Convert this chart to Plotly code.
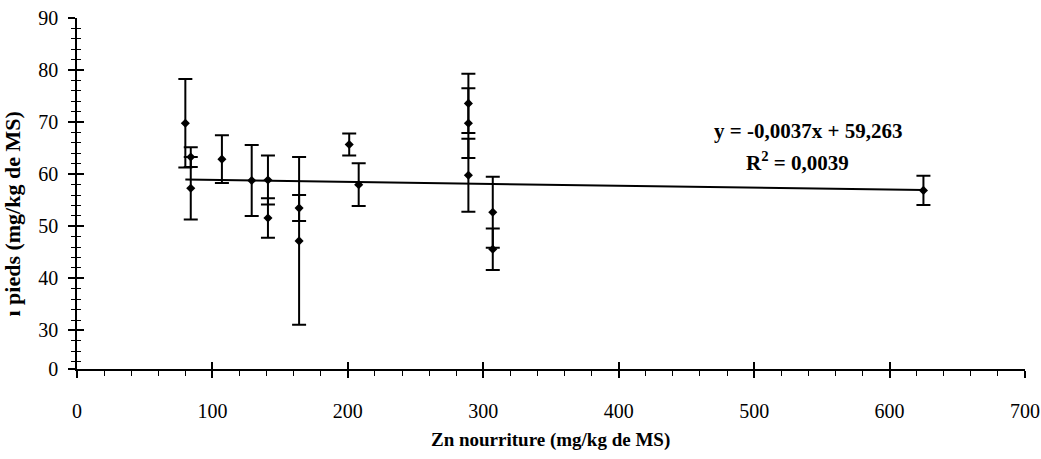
import plotly.graph_objects as go

# ---- data ----
zn_nourriture = [80, 84, 84, 107, 129, 141, 141, 164, 164, 201, 208, 289, 289, 289, 307, 307, 625]
zn_pieds = [69.8, 63.3, 57.3, 62.9, 58.8, 58.9, 51.6, 47.2, 53.5, 65.7, 58.0, 73.6, 69.8, 59.8, 52.7, 45.6, 56.9]
ecart = [8.5, 1.9, 6.0, 4.6, 6.8, 4.7, 3.8, 16.1, 2.5, 2.1, 4.1, 5.7, 6.7, 7.0, 6.8, 4.0, 2.8]

pente = -0.0037
ordonnee = 59.263
x_tick_vals = [0, 100, 200, 300, 400, 500, 600, 700]
y_axis_bottom = 22.6  # axis is broken: the "0" label sits here
y_tick_vals = [y_axis_bottom, 30, 40, 50, 60, 70, 80, 90]
y_tick_text = ["0", "30", "40", "50", "60", "70", "80", "90"]
equation_text = "y = -0,0037x + 59,263"
r2_text = "R<sup>2</sup> = 0,0039"
x_title = "Zn nourriture (mg/kg de MS)"
y_title = "ı pieds (mg/kg de MS)"

FONT = "Liberation Serif"

fig = go.Figure()

x_line = [min(zn_nourriture), max(zn_nourriture)]
y_line = [pente * v + ordonnee for v in x_line]
fig.add_trace(go.Scatter(x=x_line, y=y_line, mode="lines",
                         line=dict(color="black", width=2), hoverinfo="skip"))

fig.add_trace(go.Scatter(
    x=zn_nourriture, y=zn_pieds, mode="markers",
    marker=dict(symbol="diamond", size=7, color="black"),
    error_y=dict(type="data", array=ecart, visible=True, color="black",
                 thickness=2, width=7),
))

axis_common = dict(showgrid=False, zeroline=False, linecolor="black", linewidth=1.5,
                   tickcolor="black", automargin=False)

fig.update_layout(
    width=1041, height=459,
    margin=dict(l=77, r=16, t=18, b=90),
    paper_bgcolor="white", plot_bgcolor="white",
    showlegend=False,
    font=dict(family=FONT, color="black"),
    xaxis=dict(range=[0, 700], tickvals=x_tick_vals, ticks="outside", ticklen=7,
               tickwidth=1.5, showline=True, ticklabelstandoff=16,
               minor=dict(dtick=20, tick0=0, ticks="outside", ticklen=5,
                          tickcolor="black", tickwidth=1),
               tickfont=dict(family=FONT, size=20, color="black"),
               **axis_common),
    yaxis=dict(range=[y_axis_bottom, 90], tickvals=y_tick_vals, ticktext=y_tick_text,
               ticks="outside", ticklen=7, tickwidth=1.5, showline=True,
               ticklabelstandoff=6,
               minor=dict(dtick=2, tick0=0, ticks="outside", ticklen=4,
                          tickcolor="black", tickwidth=1),
               tickfont=dict(family=FONT, size=20, color="black"),
               **axis_common),
    # overlay axes to make the major ticks cross the axis lines
    xaxis2=dict(range=[0, 700], tickvals=x_tick_vals, ticks="inside", ticklen=7,
                tickwidth=1.5, showticklabels=False, overlaying="x", anchor="y",
                side="bottom", showgrid=False, zeroline=False, tickcolor="black"),
    yaxis2=dict(range=[y_axis_bottom, 90], tickvals=y_tick_vals, ticks="inside",
                ticklen=7, tickwidth=1.5, showticklabels=False, overlaying="y",
                anchor="x", side="left", showgrid=False, zeroline=False,
                tickcolor="black",
                minor=dict(dtick=2, tick0=0, ticks="inside", ticklen=4,
                           tickcolor="black", tickwidth=1)),
)

fig.add_trace(go.Scatter(x=[0], y=[y_axis_bottom], xaxis="x2", yaxis="y2",
                         mode="markers", marker=dict(size=1, opacity=0),
                         showlegend=False, hoverinfo="skip"))

fig.add_annotation(x=0.771, y=0.678, xref="paper", yref="paper", xanchor="center",
                   yanchor="middle", text="<b>" + equation_text + "</b>",
                   showarrow=False, font=dict(family=FONT, size=21, color="black"))
fig.add_annotation(x=0.760, y=0.59, xref="paper", yref="paper", xanchor="center",
                   yanchor="middle", text="<b>" + r2_text + "</b>",
                   showarrow=False, font=dict(family=FONT, size=21, color="black"))
fig.add_annotation(x=0.499, y=-0.202, xref="paper", yref="paper", xanchor="center",
                   yanchor="middle", text="<b>" + x_title + "</b>",
                   showarrow=False, font=dict(family=FONT, size=19, color="black"))
fig.add_annotation(x=0, y=0.44, xref="paper", yref="paper", xanchor="center",
                   yanchor="middle", xshift=-64, textangle=-90,
                   text="<b>" + y_title + "</b>",
                   showarrow=False, font=dict(family=FONT, size=22, color="black"))

fig.write_html(
    "out.html",
    config={"displayModeBar": False},
    post_script="document.body.style.margin='0';document.body.style.overflow='hidden';",
)
